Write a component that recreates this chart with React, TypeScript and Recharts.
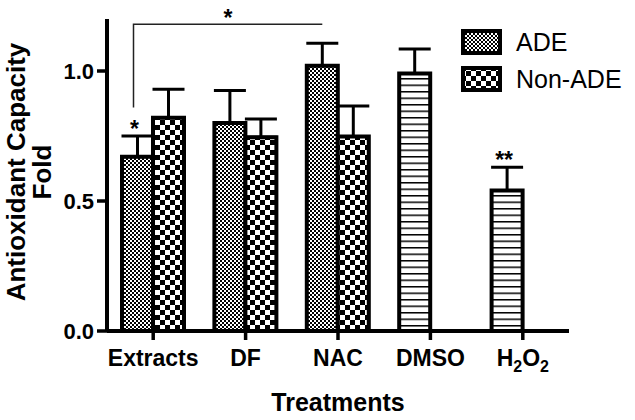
import { Bar, BarChart, Cell, ErrorBar, LabelList, XAxis, YAxis } from "recharts";

const categories = ["Extracts", "DF", "NAC", "DMSO", "H2O2"];
const seriesNames = ["ADE", "Non-ADE"];
const adeValues = [0.67, 0.8, 1.02, 0.99, 0.54];
const adeErrors = [0.08, 0.125, 0.087, 0.095, 0.09];
const nonAdeValues = [0.82, 0.745, 0.748, null, null];
const nonAdeErrors = [0.11, 0.07, 0.117, null, null];
// significance marks above the ADE bars
const adeMarks = ["*", "", "", "", "**"];
const yTicks = [0, 0.5, 1.0];
// bracket between Extracts ADE and NAC ADE
const bracket = { from: 0, to: 2, level: 1.18, drop: 0.86, mark: "*" };

// which pattern each ADE bar uses
const adePattern = ["ade", "ade", "ade", "stripes", "stripes"];
const legendPattern = ["ade", "nonAde"];

const W = 635;
const H = 420;
const MARGIN = { top: 19, right: 66, bottom: 0, left: 0 };
const X_AXIS_H = 89;
const Y_AXIS_W = 107;
const PLOT_W = W - MARGIN.left - MARGIN.right - Y_AXIS_W;
const PLOT_H = H - MARGIN.top - MARGIN.bottom - X_AXIS_H;
const STEP = PLOT_W / categories.length;
const FONT = "Arial, 'Liberation Sans', sans-serif";

const rows = categories.map((name, i) => ({
  name,
  ade: adeValues[i],
  adeErr: [0, adeErrors[i]],
  nonAde: nonAdeValues[i],
  nonAdeErr: nonAdeErrors[i] == null ? null : [0, nonAdeErrors[i]],
}));

function Patterns() {
  return (
    <svg width={0} height={0} style={{ position: "absolute" }}>
      <defs>
        <pattern id="ade" patternUnits="userSpaceOnUse" width={4} height={4}>
          <rect width={4} height={4} fill="#fff" />
          <rect x={0} y={0} width={2} height={2} fill="#000" />
          <rect x={2} y={2} width={2} height={2} fill="#000" />
        </pattern>
        <pattern id="nonAde" patternUnits="userSpaceOnUse" width={10} height={10}>
          <rect width={10} height={10} fill="#fff" />
          <rect x={0} y={0} width={5} height={5} fill="#000" />
          <rect x={5} y={5} width={5} height={5} fill="#000" />
        </pattern>
        <pattern id="stripes" patternUnits="userSpaceOnUse" width={10} height={6.5}>
          <rect width={10} height={6.5} fill="#fff" />
          <rect x={0} y={0} width={10} height={1.5} fill="#000" />
        </pattern>
      </defs>
    </svg>
  );
}

function renderAdeMarks(props: any) {
  const { x, y, width, height, index, value } = props;
  if (!value) return null;
  const ppu = height / value;
  const base = y + height;
  const cx = x + width / 2;
  const errTop = y - adeErrors[index] * ppu;
  const out: any[] = [];
  if (adeMarks[index]) {
    out.push(
      <text key="m" x={cx - 3} y={errTop + 1} textAnchor="middle" fontSize={23} fontWeight="bold" fontFamily={FONT} fill="#000">
        {adeMarks[index]}
      </text>
    );
  }
  if (index === bracket.from) {
    const x1 = cx - 4;
    const x2 = cx + (bracket.to - bracket.from) * STEP;
    const yb = base - bracket.level * ppu;
    const yd = base - bracket.drop * ppu;
    out.push(
      <path key="b" d={`M${x1},${yd} V${yb} H${x2}`} fill="none" stroke="#222" strokeWidth={1.5} />
    );
    out.push(
      <text key="bm" x={(x1 + x2) / 2} y={yb + 2} textAnchor="middle" fontSize={23} fontWeight="bold" fontFamily={FONT} fill="#000">
        {bracket.mark}
      </text>
    );
  }
  return <g>{out}</g>;
}

function renderXTick(props: any) {
  const { x, y, payload } = props;
  const v = payload.value;
  const common = { textAnchor: "middle" as const, fontSize: 23, fontWeight: "bold", fontFamily: FONT, fill: "#000" };
  if (v === "H2O2") {
    return (
      <text x={x} y={y + 26} {...common}>
        H<tspan fontSize={16} dy={6}>2</tspan>
        <tspan dy={-6}>O</tspan>
        <tspan fontSize={16} dy={6}>2</tspan>
      </text>
    );
  }
  return (
    <text x={x} y={y + 26} {...common}>
      {v}
    </text>
  );
}

function renderYLabel() {
  const cy = MARGIN.top + PLOT_H / 2 - 3;
  const style = { fontSize: 26, fontWeight: "bold", fontFamily: FONT, fill: "#000" };
  return (
    <g>
      <text transform={`translate(25, ${cy}) rotate(-90)`} textAnchor="middle" {...style}>
        Antioxidant Capacity
      </text>
      <text transform={`translate(51, ${cy}) rotate(-90)`} textAnchor="middle" {...style}>
        Fold
      </text>
    </g>
  );
}

function renderXLabel() {
  return (
    <text x={Y_AXIS_W + PLOT_W / 2} y={411} textAnchor="middle" fontSize={25} fontWeight="bold" fontFamily={FONT} fill="#000">
      Treatments
    </text>
  );
}

function ChartLegend() {
  return (
    <div style={{ position: "absolute", left: 461, top: 29, fontFamily: FONT }}>
      {seriesNames.map((s, i) => (
        <div key={s} style={{ display: "flex", alignItems: "center", height: 26, marginBottom: 11 }}>
          <svg width={41} height={26}>
            <rect x={2} y={2} width={37} height={22} fill={`url(#${legendPattern[i]})`} stroke="#000" strokeWidth={4} />
          </svg>
          <span style={{ fontSize: 25, marginLeft: 14, color: "#000", lineHeight: "26px" }}>{s}</span>
        </div>
      ))}
    </div>
  );
}

export default function App() {
  return (
    <div style={{ position: "absolute", left: 0, top: 0, width: W, height: H, background: "#fff" }}>
      <Patterns />
      <BarChart width={W} height={H} data={rows} margin={MARGIN} barGap={0} barSize={31}>
        <XAxis
          dataKey="name"
          height={X_AXIS_H}
          tick={renderXTick}
          tickSize={9}
          tickMargin={0}
          interval={0}
          axisLine={{ stroke: "#000", strokeWidth: 4 }}
          tickLine={{ stroke: "#000", strokeWidth: 3.5 }}
          label={{ content: renderXLabel }}
        />
        <YAxis
          width={Y_AXIS_W}
          domain={[0, 1.2]}
          ticks={yTicks}
          tickFormatter={(v: number) => v.toFixed(1)}
          tick={{ fontSize: 22, fontWeight: "bold", fontFamily: FONT, fill: "#000" }}
          tickSize={10}
          tickMargin={3}
          axisLine={{ stroke: "#000", strokeWidth: 4 }}
          tickLine={{ stroke: "#000", strokeWidth: 3.5 }}
          label={{ content: renderYLabel }}
        />
        <Bar dataKey="ade" name={seriesNames[0]} stroke="#000" strokeWidth={4} isAnimationActive={false}>
          {rows.map((r, i) => (
            <Cell key={r.name} fill={`url(#${adePattern[i]})`} />
          ))}
          <ErrorBar dataKey="adeErr" width={16} strokeWidth={3} stroke="#000" direction="y" />
          <LabelList dataKey="ade" content={renderAdeMarks} />
        </Bar>
        <Bar dataKey="nonAde" name={seriesNames[1]} fill="url(#nonAde)" stroke="#000" strokeWidth={4} isAnimationActive={false}>
          <ErrorBar dataKey="nonAdeErr" width={16} strokeWidth={3} stroke="#000" direction="y" />
        </Bar>
      </BarChart>
      <ChartLegend />
    </div>
  );
}
